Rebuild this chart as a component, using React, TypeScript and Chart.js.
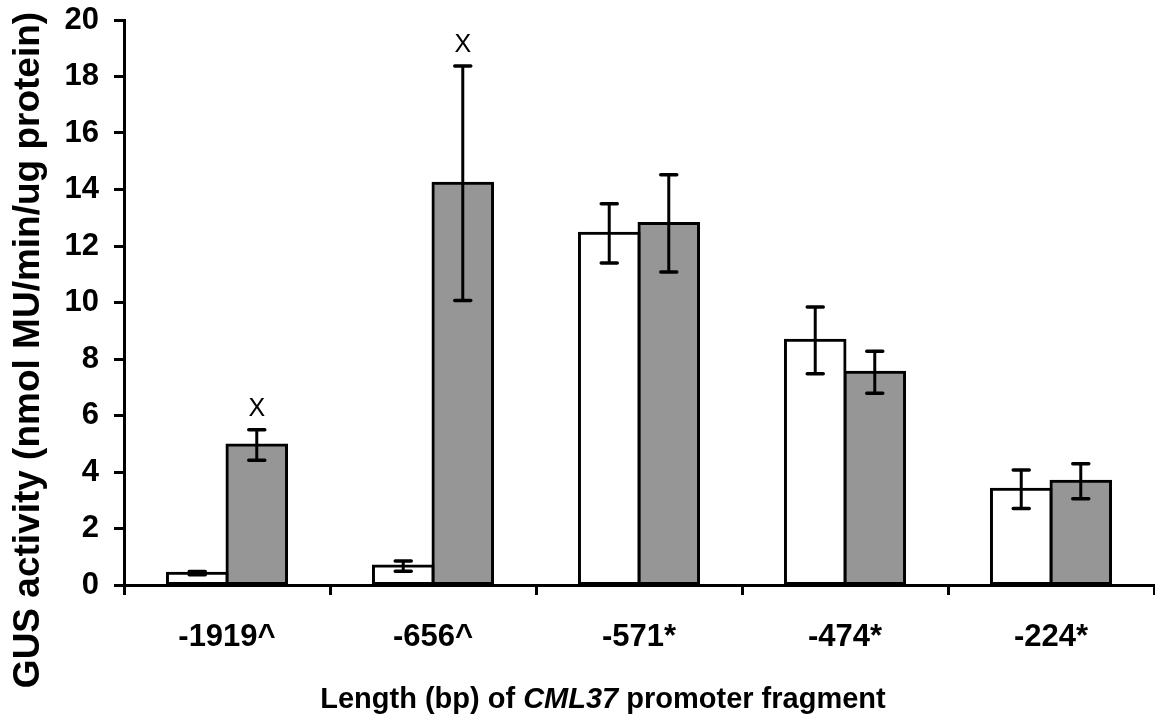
import { useEffect, useRef } from "react";
import { Chart, registerables } from "chart.js";

Chart.register(...registerables);

// Promoter fragment lengths (bp) along the x axis
const categories = ["-1919^", "-656^", "-571*", "-474*", "-224*"];

// GUS activity, open bars
const openValues = [0.42, 0.67, 12.45, 8.66, 3.39];
const openErrors = [0.06, 0.18, 1.05, 1.18, 0.68];

// GUS activity, grey bars
const greyValues = [4.96, 14.22, 12.8, 7.53, 3.67];
const greyErrors = [0.54, 4.15, 1.72, 0.74, 0.62];
const greyMarks = ["X", "X", "", "", ""];

const yMin = 0;
const yMax = 20;
const yStep = 2;

const FONT = "'Liberation Sans', Arial, Helvetica, sans-serif";

const errorBarPlugin = {
  id: "errorBars",
  afterDatasetsDraw(chart: any) {
    const ctx = chart.ctx;
    const yScale = chart.scales.y;
    const sets = [
      { values: openValues, errors: openErrors, marks: null as string[] | null },
      { values: greyValues, errors: greyErrors, marks: greyMarks },
    ];
    sets.forEach((s, di) => {
      const meta = chart.getDatasetMeta(di);
      meta.data.forEach((el: any, i: number) => {
        const x = el.x;
        const top = yScale.getPixelForValue(s.values[i] + s.errors[i]);
        const bot = yScale.getPixelForValue(s.values[i] - s.errors[i]);
        ctx.save();
        ctx.strokeStyle = "#000";
        ctx.lineWidth = 3;
        ctx.lineCap = "butt";
        ctx.beginPath();
        ctx.moveTo(x, top);
        ctx.lineTo(x, bot);
        ctx.stroke();
        ctx.lineWidth = 3.5;
        ctx.lineCap = "round";
        ctx.beginPath();
        ctx.moveTo(x - 8, top);
        ctx.lineTo(x + 8, top);
        ctx.moveTo(x - 8, bot);
        ctx.lineTo(x + 8, bot);
        ctx.stroke();
        if (s.marks && s.marks[i]) {
          ctx.fillStyle = "#000";
          ctx.font = `25px ${FONT}`;
          ctx.textAlign = "center";
          ctx.textBaseline = "alphabetic";
          ctx.fillText(s.marks[i], x, top - 14);
        }
        ctx.restore();
      });
    });
  },
};

const axisTitlePlugin = {
  id: "axisTitles",
  afterDraw(chart: any) {
    const ctx = chart.ctx;
    const area = chart.chartArea;
    ctx.save();
    ctx.fillStyle = "#000";
    ctx.textBaseline = "alphabetic";

    // x-axis title with the gene name in italics
    const parts = [
      { text: "Length (bp) of ", font: `bold 29px ${FONT}` },
      { text: "CML37", font: `italic bold 29px ${FONT}` },
      { text: " promoter fragment", font: `bold 29px ${FONT}` },
    ];
    let total = 0;
    const widths = parts.map((p) => {
      ctx.font = p.font;
      const w = ctx.measureText(p.text).width;
      total += w;
      return w;
    });
    const cx = area.left + (area.right - area.left) * 0.465;
    let x = cx - total / 2;
    ctx.textAlign = "left";
    parts.forEach((p, i) => {
      ctx.font = p.font;
      ctx.fillText(p.text, x, 708);
      x += widths[i];
    });

    // y-axis title
    ctx.translate(39, 350);
    ctx.rotate(-Math.PI / 2);
    ctx.textAlign = "center";
    ctx.font = `bold 37px ${FONT}`;
    ctx.fillText("GUS activity (nmol MU/min/ug protein)", 0, 0);
    ctx.restore();
  },
};

export default function App() {
  const canvasRef = useRef<HTMLCanvasElement | null>(null);

  useEffect(() => {
    if (!canvasRef.current) return;
    const chart = new Chart(canvasRef.current, {
      type: "bar",
      data: {
        labels: categories,
        datasets: [
          {
            data: openValues,
            backgroundColor: "#ffffff",
            borderColor: "#000000",
            borderWidth: 3,
            borderSkipped: false,
            inflateAmount: 1.5,
            categoryPercentage: 0.578,
            barPercentage: 1,
          },
          {
            data: greyValues,
            backgroundColor: "#969696",
            borderColor: "#000000",
            borderWidth: 3,
            borderSkipped: false,
            inflateAmount: 1.5,
            categoryPercentage: 0.578,
            barPercentage: 1,
          },
        ],
      },
      options: {
        animation: false,
        responsive: true,
        maintainAspectRatio: false,
        layout: { padding: { top: 20, right: 1, left: 0, bottom: 0 } },
        plugins: {
          legend: { display: false },
          tooltip: { enabled: false },
        },
        scales: {
          x: {
            afterFit(scale: any) {
              scale.height = 134;
              scale.paddingLeft = 0;
              scale.paddingRight = 0;
            },
            border: { display: true, color: "#000", width: 3 },
            grid: {
              display: true,
              offset: true,
              drawOnChartArea: false,
              drawTicks: true,
              tickLength: 10,
              color: "#000",
              lineWidth: 3,
            },
            ticks: {
              color: "#000",
              padding: 24,
              font: { family: FONT, size: 31, weight: "bold" },
              maxRotation: 0,
            },
          },
          y: {
            min: yMin,
            max: yMax,
            afterFit(scale: any) {
              scale.width = 124;
              scale.paddingTop = 0;
              scale.paddingBottom = 0;
            },
            border: { display: true, color: "#000", width: 3 },
            grid: {
              display: true,
              drawOnChartArea: false,
              drawTicks: true,
              tickLength: 10,
              color: "#000",
              lineWidth: 3,
            },
            ticks: {
              stepSize: yStep,
              color: "#000",
              padding: 15,
              font: { family: FONT, size: 31, weight: "bold" },
            },
          },
        },
      },
      plugins: [errorBarPlugin, axisTitlePlugin],
    });
    return () => chart.destroy();
  }, []);

  return (
    <div style={{ position: "fixed", left: 0, top: 0, width: 1155, height: 719, background: "#fff" }}>
      <canvas ref={canvasRef} />
    </div>
  );
}
